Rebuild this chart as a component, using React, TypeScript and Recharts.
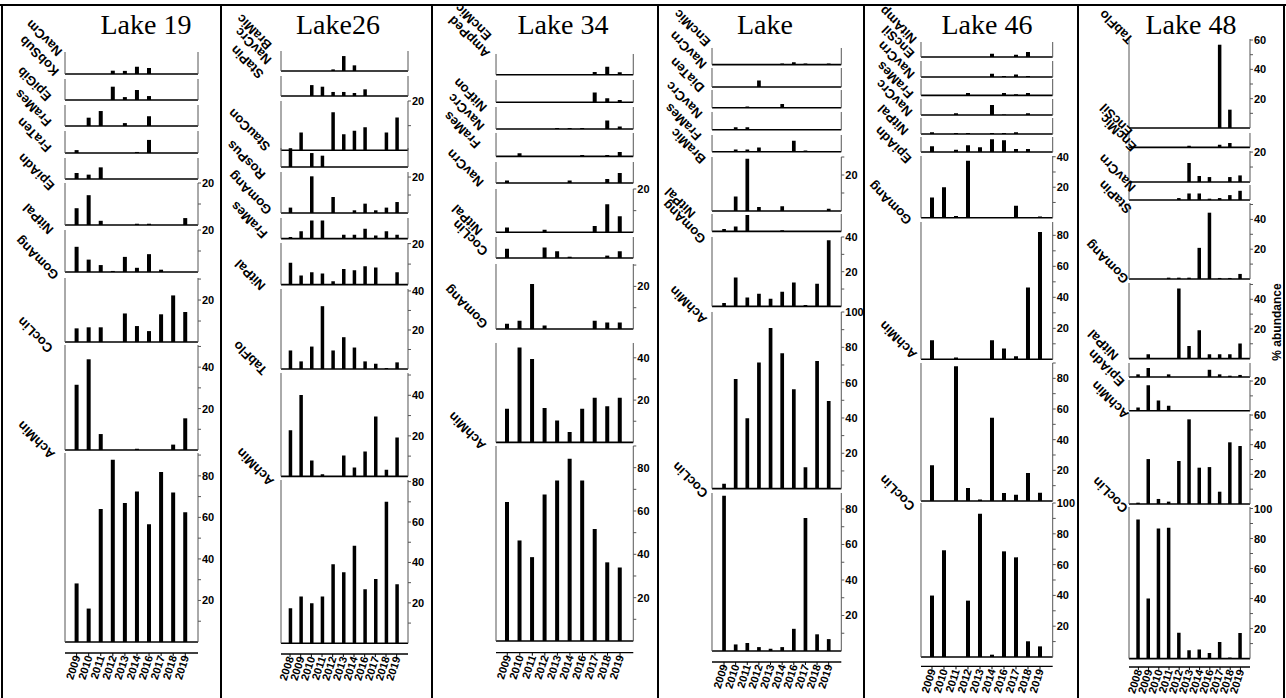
import React from 'react';
import { BarChart, Bar, XAxis, YAxis } from 'recharts';

// ---------- categories ----------
const yearsA = ['2009', '2010', '2011', '2012', '2013', '2014', '2016', '2017', '2018', '2019'];
const yearsB = ['2008', '2009', '2010', '2011', '2012', '2013', '2014', '2016', '2017', '2018', '2019'];

// ---------- Lake 19 (% abundance per year) ----------
const l19Taxa = ['NavCm', 'KobSub', 'EpiGib', 'FraMes', 'FraTen', 'EpiAdn', 'NitPal', 'GomAng', 'CocLin', 'AchMin'];
const l19R1 = [0, 0, 0, 1.6, 1.5, 3.5, 2.9, 0, 0, 0];
const l19R2 = [0, 0, 0, 6.4, 1.4, 4.8, 1.9, 0, 0, 0];
const l19R3 = [0, 4, 7.2, 0, 1.4, 0, 4.7, 0, 0, 0];
const l19R4 = [1.4, 0, 0, 0, 0, 0.5, 6.3, 0, 0, 0];
const l19R5 = [2.9, 2.1, 5.6, 0, 0, 0, 0, 0, 0, 0];
const l19R6 = [8, 14.2, 2, 0, 0, 0.6, 0.6, 0, 0, 3.3];
const l19R7 = [12, 5.9, 3.3, 0.5, 7.2, 2, 8.5, 1.1, 0, 0];
const l19R8 = [6.5, 7, 7, 0, 13.6, 7.6, 5.2, 13.2, 22.2, 14.3];
const l19R9 = [31.5, 43.8, 7.7, 0, 0, 0.6, 0, 0, 2.6, 15.3];
const l19R10 = [28.2, 16.1, 64, 87.8, 66.9, 72.5, 56.7, 81.8, 72, 62.5];

// ---------- Lake26 ----------
const l26Taxa = ['BraMic', 'NavCrc', 'StaPin', 'StauCon', 'RosPus', 'GomAng', 'FraMes', 'NitPal', 'TabFlo', 'AchMin'];
const l26R1 = [0, 0, 0, 0, 0.8, 7.4, 2.8, 0, 0, 0, 0];
const l26R2 = [0, 0, 5.4, 4.6, 2, 2, 1.5, 3.3, 0, 0, 0];
const l26R3 = [0, 7.2, 0, 0, 15.4, 6.5, 7.9, 9.4, 0, 7.2, 13.3];
const l26R4 = [9.3, 0, 6.9, 5.6, 0, 0, 0, 0, 0, 0, 0];
const l26R5 = [3, 0, 20.4, 0, 8.9, 0, 1.5, 5.2, 1.5, 3, 6.1];
const l26R6 = [0.9, 3.9, 9.6, 9.6, 0, 2.1, 2.1, 5.3, 1.6, 3.9, 2.1];
const l26R7 = [10.7, 4.4, 6, 5.4, 1.6, 7.6, 7, 8.9, 8.3, 0, 6];
const l26R8 = [9.5, 3.9, 11.5, 32.2, 9.5, 16.3, 11, 3.9, 2.7, 0.5, 3.4];
const l26R9 = [22.7, 40.2, 7.9, 1.1, 0, 10.3, 4.4, 12.3, 29.6, 3.3, 19.2];
const l26R10 = [17.3, 23.1, 19.8, 23.1, 39.1, 35.1, 48.3, 26.7, 31.8, 70.1, 29.2];

// ---------- Lake 34 ----------
const l34Taxa = ['EncMic', 'AmpPed', 'NitFon', 'NavCrc', 'FraMes', 'NavCrn', 'NitPal', 'CocLin', 'GomAng', 'AchMin'];
const l34R1 = [0, 0, 0, 0, 0, 0, 0, 1.2, 3.7, 1.1];
const l34R2 = [0, 0, 0, 0, 0, 0, 0, 4.5, 1.9, 1.1];
const l34R3 = [0, 0, 0, 0, 0.5, 0.5, 0.5, 0, 3.9, 1.2];
const l34R4 = [0, 1.4, 0, 0, 0, 0, 0.6, 0, 0.6, 2];
const l34R5 = [1.1, 0, 0, 0, 0, 1.1, 0, 0, 1.9, 4.6];
const l34R6 = [2.2, 0, 0, 1.2, 0, 0, 0, 2.9, 13, 7.4];
const l34R7 = [4.3, 0, 0, 4.8, 3.1, 0.6, 0, 0, 1.1, 3.1];
const l34R8 = [2.5, 3.9, 21.1, 1.7, 0, 0, 0, 3.9, 3.1, 3.1];
const l34R9 = [15.9, 44.9, 39.4, 16.3, 10.3, 4.9, 15.9, 21.1, 17.1, 21.1];
const l34R10 = [64.2, 46.4, 38.7, 67.6, 74.1, 84.1, 74.1, 51.7, 36.3, 33.9];

// ---------- Lake ----------
const lkTaxa = ['EncMic', 'NavCrn', 'DiaTen', 'NavCrc', 'FraMes', 'BraMic', 'NitPal', 'GomAng', 'AchMin', 'CocLin'];
const lkR1 = [0, 0, 0, 0, 0, 0.6, 1.3, 0.6, 0, 0.6];
const lkR2 = [0, 0, 0, 3.7, 0, 0, 0, 0, 0, 0];
const lkR3 = [0, 0, 0.7, 0, 0, 2.1, 0, 0, 0, 0];
const lkR4 = [0, 1.3, 1.3, 0, 0, 0, 0, 0, 0, 0];
const lkR5 = [0, 1.3, 1.3, 2.4, 0, 0, 6.2, 0.6, 0, 0];
const lkR6 = [0, 8.1, 29, 2.2, 0, 2.7, 0, 0, 0, 1.3];
const lkR7 = [1.3, 2.7, 9.2, 0, 0, 0.7, 0, 0, 0, 0];
const lkR8 = [1.9, 16.6, 5.1, 7.3, 4.4, 8.4, 13.7, 0.8, 13.1, 38.1];
const lkR9 = [2.8, 62.1, 39.8, 71.4, 90.9, 76.7, 56.3, 12.1, 72.3, 49.6];
const lkR10 = [87.5, 3.7, 4.5, 2.2, 1.3, 2.2, 12.5, 74.9, 9.4, 6.7];

// ---------- Lake 46 ----------
const l46Taxa = ['NitAmp', 'EncSil', 'NavCrn', 'FraMes', 'NavCrc', 'NitPal', 'EpiAdn', 'GomAng', 'AchMin', 'CocLin'];
const l46R1 = [0, 0, 0, 0, 0, 2.2, 0, 1.5, 3.3, 0];
const l46R2 = [0, 0, 0, 0, 0, 2.2, 0.7, 1.7, 0.7, 0];
const l46R3 = [0, 0, 0, 1.5, 0, 0, 1.5, 0.7, 1.5, 0];
const l46R4 = [0, 0, 1.1, 0, 0, 6.5, 0.4, 0, 1.1, 0];
const l46R5 = [1.1, 0, 0.7, 0.7, 0, 0.7, 0.7, 1.1, 0, 0];
const l46R6 = [3.7, 0, 1.5, 4.4, 3.1, 8.3, 7.6, 2, 2, 0];
const l46R7 = [13.2, 20, 1.1, 37.3, 0, 0, 0, 7.9, 0, 0.7];
const l46R8 = [12.3, 0, 1.1, 0, 0, 12.3, 6.9, 1.9, 46.3, 82.1];
const l46R9 = [23.3, 0, 87.9, 8.5, 0.9, 54.3, 5.2, 4.1, 18.2, 5.4];
const l46R10 = [39.9, 69.3, 0, 36.6, 93.1, 1.5, 68.6, 64.7, 10.2, 6.9];

// ---------- Lake 48 ----------
const l48Taxa = ['TabFlo', 'EncSil', 'EncMic', 'NavCrn', 'StaPin', 'GomAng', 'NitPal', 'EpiAdn', 'AchMin', 'CocLin'];
const l48R1 = [0, 0, 0, 0, 0, 0, 0, 0, 56.8, 12.5, 0];
const l48R2 = [0, 0, 0, 0, 0, 1.1, 0, 0, 1.8, 2.9, 0];
const l48R3 = [0, 0, 0, 0, 0, 12.7, 4, 3.3, 0, 3.3, 4.4];
const l48R4 = [0, 0, 0, 0, 1.3, 4.4, 4.4, 0.9, 1.3, 3.3, 6.2];
const l48R5 = [0, 0, 0, 0.9, 0.9, 0.9, 20.9, 44.5, 0.7, 0.7, 3.4];
const l48R6 = [0, 2.9, 0, 0, 47.3, 8.5, 19.1, 2.9, 2.9, 2.9, 10.1];
const l48R7 = [1.8, 6.1, 0, 1.8, 0, 0, 0, 4.9, 1.8, 0.9, 1.4];
const l48R8 = [2.1, 17.2, 6.9, 3.4, 0, 0, 0, 0, 0, 0, 0];
const l48R9 = [0.9, 30.3, 3.4, 1.6, 29, 57.1, 24.5, 24.9, 8.3, 41.6, 39.1];
const l48R10 = [92.7, 40, 86.7, 87.1, 17.3, 5.6, 6, 3.8, 11.1, 0.7, 17.1];

const titles = ['Lake 19', 'Lake26', 'Lake 34', 'Lake', 'Lake 46', 'Lake 48'];
const yLabel = '% abundance';

// ---------- layout ----------
type Row = { vals: number[]; top: number; bottom: number; max: number; scaled: boolean };
type Panel = {
  title: string; titleX: number; years: string[];
  axisL: number; axisR: number; padL: number; padR: number; barSize: number;
  xAxisY: number; rows: Row[]; taxa: string[]; taxaPos: number[][];
};

const r = (vals: number[], top: number, bottom: number, max: number, scaled = false): Row => ({ vals, top, bottom, max, scaled });

const panels: Panel[] = [
  {
    title: titles[0], titleX: 146, years: yearsA, axisL: 65, axisR: 198, padL: 5.6, padR: 6.7, barSize: 4, xAxisY: 653,
    rows: [
      r(l19R1, 52, 74, 10.6), r(l19R2, 79, 100, 10.1), r(l19R3, 105, 126, 10.1), r(l19R4, 131, 153, 10.6),
      r(l19R5, 158, 179, 10.1), r(l19R6, 183, 225, 20, true), r(l19R7, 230, 272, 20, true),
      r(l19R8, 278, 342, 30.5, true), r(l19R9, 345, 450, 50.7, true), r(l19R10, 453, 642, 91, true),
    ],
    taxa: l19Taxa,
    taxaPos: [[44, 38], [39, 56], [34, 84], [33, 108], [34, 135], [36, 172], [38, 219], [37, 258], [35, 335], [36, 440]],
  },
  {
    title: titles[1], titleX: 338, years: yearsB, axisL: 281, axisR: 408, padL: 3.7, padR: 6, barSize: 3.5, xAxisY: 654,
    rows: [
      r(l26R1, 50.7, 70.7, 9.9), r(l26R2, 76, 96, 9.9), r(l26R3, 100.7, 150, 20, true), r(l26R4, 148, 167, 9.4),
      r(l26R5, 171.7, 212.7, 22.8, true), r(l26R6, 217.7, 238.3, 11), r(l26R7, 242.7, 284.3, 20.3, true),
      r(l26R8, 289.3, 369.3, 41, true), r(l26R9, 373.3, 476.7, 51, true), r(l26R10, 480, 643.3, 80.8, true),
    ],
    taxa: l26Taxa,
    taxaPos: [[254, 32], [253, 46], [247, 62], [249, 130], [246, 160], [250, 193], [249, 220], [250, 275], [250, 358], [255, 467]],
  },
  {
    title: titles[2], titleX: 563, years: yearsA, axisL: 495.7, axisR: 633, padL: 5, padR: 7, barSize: 4, xAxisY: 652.7,
    rows: [
      r(l34R1, 54.3, 75, 9.6), r(l34R2, 80, 102.3, 10.3), r(l34R3, 107.3, 129.3, 10.2), r(l34R4, 133.3, 156.7, 10.8),
      r(l34R5, 162.3, 183.3, 9.7), r(l34R6, 189, 232.3, 20, true), r(l34R7, 237.3, 258.3, 9.7),
      r(l34R8, 264.3, 329.3, 30.5, true), r(l34R9, 343.3, 442.7, 47, true), r(l34R10, 446, 641, 90, true),
    ],
    taxa: l34Taxa,
    taxaPos: [[473, 22], [469, 37], [470, 95], [466, 112], [462, 130], [465, 168], [467, 220], [470, 238], [466, 307], [467, 431]],
  },
  {
    title: titles[3], titleX: 765, years: yearsA, axisL: 712, axisR: 841.3, padL: 6.2, padR: 6.8, barSize: 3.7, xAxisY: 661.7,
    rows: [
      r(lkR1, 47.7, 64.3, 9.3), r(lkR2, 68.3, 87.3, 10.7), r(lkR3, 90, 107.7, 9.9), r(lkR4, 112.3, 130, 9.9),
      r(lkR5, 135, 151.7, 9.4), r(lkR6, 156.7, 210.7, 30, true), r(lkR7, 214.3, 231.7, 9.8),
      r(lkR8, 237.3, 306.7, 40, true), r(lkR9, 311.7, 488.3, 100, true), r(lkR10, 492.7, 650.7, 89, true),
    ],
    taxa: lkTaxa,
    taxaPos: [[692, 28], [688, 50], [687, 75], [684, 100], [683, 122], [688, 146], [680, 203], [684, 222], [688, 305], [690, 480]],
  },
  {
    title: titles[4], titleX: 987, years: yearsA, axisL: 921.3, axisR: 1053, padL: 5, padR: 6.7, barSize: 4, xAxisY: 666.7,
    rows: [
      r(l46R1, 42.3, 57.3, 9.8), r(l46R2, 60.7, 76.7, 10.5), r(l46R3, 79.3, 95.7, 10.7), r(l46R4, 99, 115, 10.5),
      r(l46R5, 118.3, 134.3, 10.5), r(l46R6, 136.7, 151.7, 9.8), r(l46R7, 156, 217.7, 40.5, true),
      r(l46R8, 221.7, 359, 88.6, true), r(l46R9, 362.7, 500.7, 90, true), r(l46R10, 503.3, 657.3, 100, true),
    ],
    taxa: l46Taxa,
    taxaPos: [[898, 25], [898, 42], [896, 60], [895, 80], [894, 98], [893, 120], [893, 145], [890, 203], [898, 340], [897, 493]],
  },
  {
    title: titles[5], titleX: 1191, years: yearsB, axisL: 1129.3, axisR: 1250.3, padL: 4.3, padR: 4.5, barSize: 3.5, xAxisY: 666.7,
    rows: [
      r(l48R1, 39.3, 128.3, 60.7, true), r(l48R2, 133.3, 147.7, 9.7), r(l48R3, 150.7, 181.7, 20.7, true),
      r(l48R4, 185, 200, 10.1), r(l48R5, 203.3, 279.3, 51, true), r(l48R6, 282.7, 358.3, 51, true),
      r(l48R7, 362.7, 376.7, 9.5), r(l48R8, 380, 410.7, 20.7, true), r(l48R9, 414, 504, 60.7, true),
      r(l48R10, 506.7, 658.3, 101, true),
    ],
    taxa: l48Taxa,
    taxaPos: [[1116, 27], [1116, 120], [1118, 133], [1117, 173], [1115, 197], [1107, 262], [1103, 345], [1106, 368], [1110, 400], [1110, 495]],
  },
];

const SANS = '"Liberation Sans", Arial, sans-serif';
const AXIS = '#555';

const tickList = (max: number) => {
  const out: number[] = [];
  for (let t = 10; t <= max + 0.01; t += 10) out.push(t);
  return out;
};

const ValTick = (props: any) => {
  const { x, y, payload } = props;
  if (payload.value % 20 !== 0) return <g />;
  return (
    <text x={x} y={y} dy={4} textAnchor="start" fontSize={11} fontWeight="bold" fontFamily={SANS} fill="#000">
      {payload.value}
    </text>
  );
};

const YearTick = (props: any) => {
  const { x, y, payload } = props;
  const ax = x + 4;
  const ay = y;
  return (
    <text x={ax} y={ay} transform={`rotate(-72 ${ax} ${ay})`} textAnchor="end" fontSize={11} fontWeight="bold" fontFamily={SANS} fill="#000">
      {payload.value}
    </text>
  );
};

function RowChart({ panel, row, last }: { panel: Panel; row: Row; last: boolean }) {
  const mt = 7, ml = 6, rw = 28, mb = 1;
  const plotH = row.bottom - row.top;
  const xh = last ? panel.xAxisY - row.bottom : 2;
  const yrH = last ? 44 : 0;
  const width = ml + (panel.axisR - panel.axisL) + rw;
  const height = mt + plotH + xh + yrH + mb;
  const data = panel.years.map((y, i) => ({ year: y, v: row.vals[i] }));
  const ticks = row.scaled ? tickList(row.max) : [];
  return (
    <div style={{ position: 'absolute', left: panel.axisL - ml, top: row.top - mt }}>
      <BarChart width={width} height={height} data={data} margin={{ top: mt, right: 0, bottom: mb, left: 0 }}>
        <XAxis
          dataKey="year" xAxisId={0} height={xh} tick={false} tickLine={false}
          axisLine={{ stroke: '#000', strokeWidth: 1.6 }} padding={{ left: panel.padL, right: panel.padR }}
        />
        {last && (
          <XAxis
            dataKey="year" xAxisId="yr" height={yrH} interval={0} tickSize={3} tickMargin={1}
            tickLine={{ stroke: '#000' }} axisLine={{ stroke: '#000', strokeWidth: 1.3 }}
            tick={<YearTick />} padding={{ left: panel.padL, right: panel.padR }}
          />
        )}
        <YAxis
          yAxisId="l" orientation="left" type="number" width={ml} domain={[0, row.max]} allowDataOverflow
          ticks={ticks} interval={0} tick={false} tickSize={3}
          tickLine={row.scaled ? { stroke: AXIS } : false} axisLine={{ stroke: AXIS }}
        />
        <YAxis
          yAxisId="r" orientation="right" type="number" width={rw} domain={[0, row.max]} allowDataOverflow
          ticks={ticks} interval={0} tickSize={3} tickMargin={1}
          tick={row.scaled ? <ValTick /> : false}
          tickLine={row.scaled ? { stroke: AXIS } : false} axisLine={{ stroke: AXIS }}
        />
        <Bar dataKey="v" xAxisId={0} yAxisId="r" fill="#000" barSize={panel.barSize} isAnimationActive={false} />
      </BarChart>
    </div>
  );
}

const separators = [2, 221, 432, 658, 864, 1078, 1284];

export default function App() {
  return (
    <div style={{ position: 'absolute', left: 0, top: 0, width: 1286, height: 698, background: '#fff', overflow: 'hidden' }}>
      {panels.map((p, pi) =>
        p.rows.map((row, ri) => (
          <RowChart key={`${pi}-${ri}`} panel={p} row={row} last={ri === p.rows.length - 1} />
        ))
      )}
      <svg width={1286} height={698} style={{ position: 'absolute', left: 0, top: 0, pointerEvents: 'none' }}>
        <line x1={0} y1={5} x2={1286} y2={5} stroke="#000" strokeWidth={2} />
        {separators.map((x) => (
          <line key={x} x1={x} y1={5} x2={x} y2={698} stroke="#000" strokeWidth={2} />
        ))}
        {panels.map((p) => (
          <text key={p.title} x={p.titleX} y={34} textAnchor="middle" fontSize={28} fontFamily='"Liberation Serif", "Times New Roman", serif' fill="#000">
            {p.title}
          </text>
        ))}
        {panels.map((p) =>
          p.taxa.map((t, i) => {
            const [cx, cy] = p.taxaPos[i];
            return (
              <text
                key={`${p.title}-${t}-${i}`} x={cx} y={cy} transform={`rotate(225 ${cx} ${cy})`}
                textAnchor="middle" dominantBaseline="central" fontSize={13} fontWeight="bold" fontFamily={SANS} fill="#000"
              >
                {t}
              </text>
            );
          })
        )}
        <text x={1277} y={322} transform="rotate(-90 1277 322)" textAnchor="middle" dominantBaseline="central" fontSize={12} fontWeight="bold" fontFamily={SANS} fill="#000">
          {yLabel}
        </text>
      </svg>
    </div>
  );
}
